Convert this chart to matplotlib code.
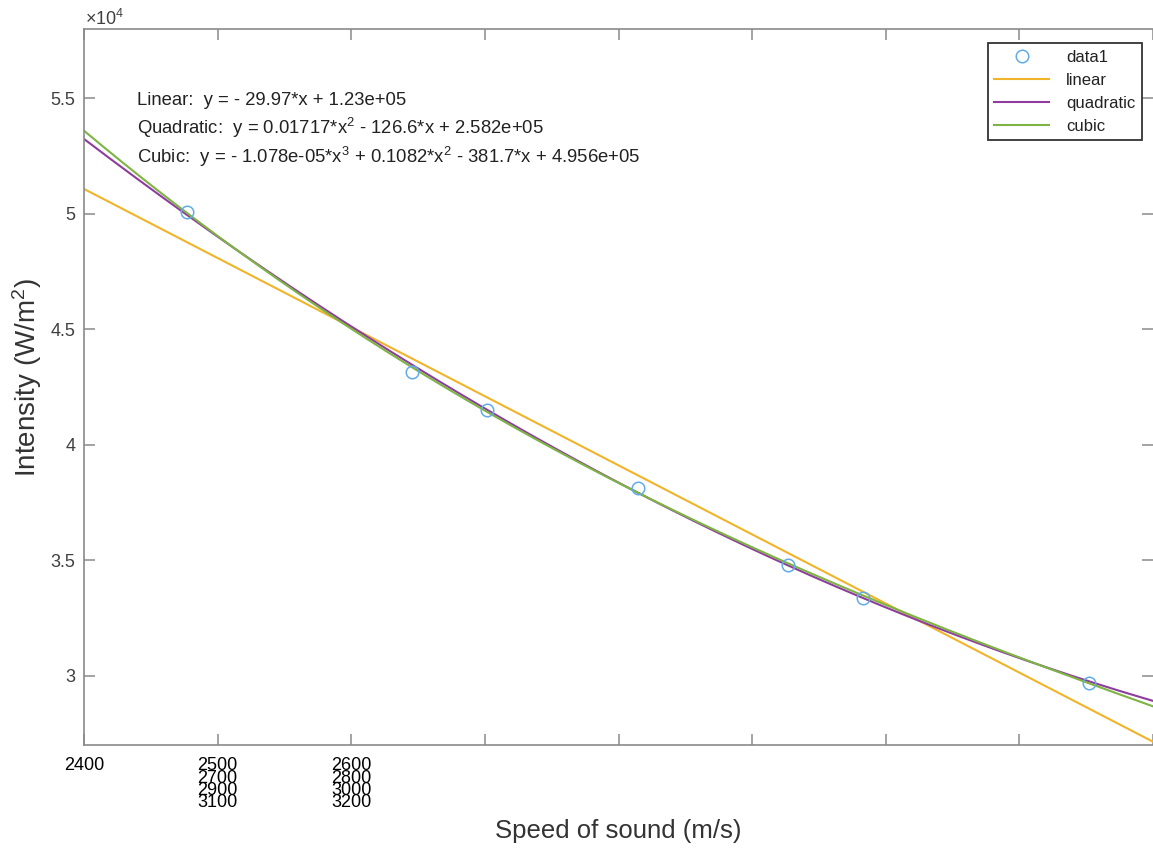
import numpy as np
import matplotlib
matplotlib.use("Agg")
import matplotlib.pyplot as plt

plt.rcParams['font.family'] = ['Liberation Sans', 'DejaVu Sans']
plt.rcParams['mathtext.default'] = 'regular'

# ---- data ----
speed = [2476.9, 2645.3, 2701.9, 2814.7, 2927.2, 2983.3, 3152.2]
intensity = [50086, 43146, 41487, 38146, 34806, 33349, 29706]

fit_names = ['linear', 'quadratic', 'cubic']
fit_degrees = [1, 2, 3]
fit_colors = ['#F0B429', '#8E3D9E', '#7DB443']

eq_texts = [
    "Linear:  y = - 29.97*x + 1.23e+05",
    "Quadratic:  y = 0.01717*x$^{2}$ - 126.6*x + 2.582e+05",
    "Cubic:  y = - 1.078e-05*x$^{3}$ + 0.1082*x$^{2}$ - 381.7*x + 4.956e+05",
]

x_ticks = [2400, 2500, 2600, 2700, 2800, 2900, 3000, 3100, 3200]
x_tick_labels = ['2400', '2500\n2700\n2900\n3100', '2600\n2800\n3000\n3200',
                 '', '', '', '', '', '']
y_ticks = [30000, 35000, 40000, 45000, 50000, 55000]
y_tick_labels = ['3', '3.5', '4', '4.5', '5', '5.5']
x_range = [2400, 3200]
y_range = [27000, 58000]

# ---- figure ----
fig = plt.figure(figsize=(11.53, 8.51), dpi=100)
ax = fig.add_axes([84/1153, (851-745)/851, 1069/1153, 716/851])

xs = np.linspace(x_range[0], x_range[1], 500)
ax.plot(speed, intensity, 'o', mfc='none', mec='#62acE6', ms=9, mew=1.1,
        label='data1', zorder=5)
sx = np.array(speed)
xm = sx.mean()
for name, deg, col in zip(fit_names, fit_degrees, fit_colors):
    p = np.polyfit(sx - xm, intensity, deg)
    ax.plot(xs, np.polyval(p, xs - xm), color=col, lw=1.5, label=name)

ax.set_xlim(x_range)
ax.set_ylim(y_range)
ax.set_xticks(x_ticks)
ax.set_xticklabels(x_tick_labels, fontsize=13, color='black')
for lbl in ax.get_xticklabels():
    lbl.set_linespacing(0.62)
ax.set_yticks(y_ticks)
ax.set_yticklabels(y_tick_labels, fontsize=13, color='#404040')

grey = '#8a8a8a'
for side in ['left', 'bottom', 'top']:
    ax.spines[side].set_color(grey)
    ax.spines[side].set_linewidth(1.2)
ax.spines['right'].set_visible(False)
ax.tick_params(axis='both', direction='in', length=8, width=1.1, color=grey,
               top=True, right=True)
ax.tick_params(axis='x', pad=9)
ax.tick_params(axis='y', pad=6)

ax.set_xlabel('Speed of sound (m/s)', fontsize=18.5, color='#333333')
ax.xaxis.set_label_coords(0.5, -0.104)
ax.set_ylabel('Intensity (W/m$^{2}$)', fontsize=20, color='#333333')
ax.yaxis.set_label_coords(-0.037, 0.513)

ax.text(0.001, 1.0, '×10$^{4}$', transform=ax.transAxes, fontsize=13,
        color='#404040', ha='left', va='bottom')

for i, t in enumerate(eq_texts):
    ax.text(0.0496, [0.9008, 0.8617, 0.8212][i], t, transform=ax.transAxes,
            fontsize=13.3, color='#222222', ha='left', va='center')

leg = ax.legend(loc='upper right', bbox_to_anchor=(0.9897, 0.9804),
                borderaxespad=0, fontsize=12, fancybox=False, framealpha=1,
                edgecolor='#333333', handlelength=3.3, handletextpad=1.0,
                labelspacing=0.48, borderpad=0.4)
leg.get_frame().set_linewidth(1.3)
for txt in leg.get_texts():
    txt.set_color('#222222')

fig.savefig('out.png', dpi=100)
